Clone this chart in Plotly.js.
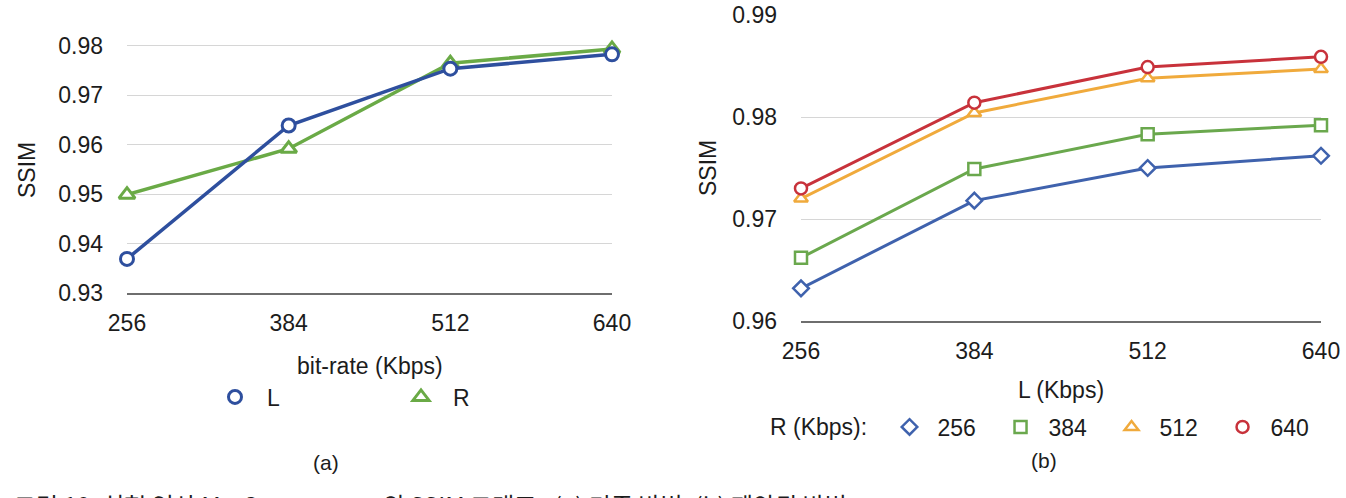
<!DOCTYPE html>
<html>
<head>
<meta charset="utf-8">
<script src="https://cdn.plot.ly/plotly-3.0.1.min.js"></script>
<style>html,body{margin:0;padding:0;background:#fff;}#chart{width:1346px;height:498px;}</style>
</head>
<body>
<div id="chart"></div>
<script>
// ---- data ----
const bitrates = [256, 384, 512, 640];
const tickLabels = ['256', '384', '512', '640'];

// (a) existing method
const ssimL = [0.9369, 0.9639, 0.9754, 0.9783];
const ssimR = [0.9499, 0.9592, 0.9765, 0.9794];

// (b) proposed method: series by R bitrate, x = L bitrate
const seriesNames = ['256', '384', '512', '640'];
const ssimR256 = [0.9632, 0.9718, 0.9750, 0.9762];
const ssimR384 = [0.9662, 0.9749, 0.9783, 0.9792];
const ssimR512 = [0.9720, 0.9804, 0.9838, 0.9847];
const ssimR640 = [0.9730, 0.9814, 0.9849, 0.9859];

const yTicksA = [0.93, 0.94, 0.95, 0.96, 0.97, 0.98];
const yTicksB = [0.96, 0.97, 0.98, 0.99];

const W = 1346, H = 498;
const px = v => v / W;
const py = v => 1 - v / H;
const FONT = 'Liberation Sans, Arial, Helvetica, sans-serif';
const TXT = '#1c1c1c';
const FS = 23;

const blueA = '#2e4f9e', greenA = '#6aaa46';
const cB = ['#3f62ad', '#6aa84d', '#f0aa3c', '#c8323b'];
const symB = ['diamond', 'square', 'triangle-up', 'circle'];
const seriesB = [ssimR256, ssimR384, ssimR512, ssimR640];

const traces = [];
// panel (a): green drawn first, blue on top
traces.push({x: bitrates, y: ssimR, xaxis: 'x', yaxis: 'y', mode: 'lines+markers', name: 'R', showlegend: false,
  line: {color: greenA, width: 3.5}, marker: {symbol: 'triangle-up', size: 14, color: '#fff', line: {color: greenA, width: 3}}, cliponaxis: false});
traces.push({x: bitrates, y: ssimL, xaxis: 'x', yaxis: 'y', mode: 'lines+markers', name: 'L', showlegend: false,
  line: {color: blueA, width: 3.5}, marker: {symbol: 'circle', size: 13, color: '#fff', line: {color: blueA, width: 3}}, cliponaxis: false});
// legend entries for (a)
traces.push({x: [null], y: [null], xaxis: 'x', yaxis: 'y', mode: 'markers', name: 'L', legend: 'legend',
  marker: {symbol: 'circle', size: 13, color: '#fff', line: {color: blueA, width: 3}}});
traces.push({x: [null], y: [null], xaxis: 'x', yaxis: 'y', mode: 'markers', name: 'R', legend: 'legend',
  marker: {symbol: 'triangle-up', size: 14, color: '#fff', line: {color: greenA, width: 3}}});

// panel (b)
seriesB.forEach((ys, i) => {
  traces.push({x: bitrates, y: ys, xaxis: 'x2', yaxis: 'y2', mode: 'lines+markers', name: seriesNames[i], showlegend: false,
    line: {color: cB[i], width: 3}, marker: {symbol: symB[i], size: 12, color: '#fff', line: {color: cB[i], width: 2.5}}, cliponaxis: false});
});
seriesB.forEach((ys, i) => {
  traces.push({x: [null], y: [null], xaxis: 'x2', yaxis: 'y2', mode: 'markers', name: seriesNames[i], legend: 'legend2',
    marker: {symbol: symB[i], size: 12, color: '#fff', line: {color: cB[i], width: 2.5}}});
});

const xCommon = {range: [256, 640], tickmode: 'array', tickvals: bitrates, ticktext: tickLabels,
  showgrid: false, zeroline: false, showline: true, linecolor: '#6e6e6e', linewidth: 2,
  ticks: '', tickfont: {family: FONT, size: FS, color: TXT}, ticklabelstandoff: 8, fixedrange: true};
const yCommon = {showgrid: true, gridcolor: '#d6d6d6', gridwidth: 1, zeroline: false, showline: false,
  ticks: '', tickfont: {family: FONT, size: FS, color: TXT}, ticklabelstandoff: 23, tickformat: '.2f', fixedrange: true};

const ann = (text, x, y, size, extra) => Object.assign({text: text, x: px(x), y: py(y), xref: 'paper', yref: 'paper',
  xanchor: 'center', yanchor: 'middle', showarrow: false, font: {family: FONT, size: size, color: TXT}}, extra || {});

const layout = {
  width: W, height: H,
  margin: {l: 0, r: 0, t: 0, b: 0},
  paper_bgcolor: '#fff', plot_bgcolor: '#fff',
  font: {family: FONT, color: TXT},
  xaxis: Object.assign({}, xCommon, {domain: [px(127), px(612)], anchor: 'y'}),
  yaxis: Object.assign({}, yCommon, {domain: [py(293), py(41)], range: [0.93, 0.981], tickvals: yTicksA, anchor: 'x'}),
  xaxis2: Object.assign({}, xCommon, {domain: [px(801), px(1321)], anchor: 'y2'}),
  yaxis2: Object.assign({}, yCommon, {domain: [py(321), py(15)], range: [0.96, 0.99], tickvals: yTicksB, anchor: 'x2'}),
  legend: {orientation: 'h', x: px(203), xanchor: 'left', y: py(397), yanchor: 'middle',
    itemwidth: 54, entrywidth: 117, entrywidthmode: 'pixels',
    font: {family: FONT, size: FS, color: TXT}, bgcolor: 'rgba(0,0,0,0)'},
  legend2: {orientation: 'h', x: px(768), xanchor: 'left', y: py(427), yanchor: 'middle',
    title: {text: 'R (Kbps):\u00a0', side: 'left', font: {family: FONT, size: FS, color: TXT}},
    itemwidth: 46, entrywidth: 50, entrywidthmode: 'pixels',
    font: {family: FONT, size: FS, color: TXT}, bgcolor: 'rgba(0,0,0,0)'},
  annotations: [
    ann('SSIM', 27, 170, 23, {textangle: -90}),
    ann('bit-rate (Kbps)', 370, 366, FS),
    ann('(a)', 326, 462, 21),
    ann('SSIM', 708, 168, 23, {textangle: -90}),
    ann('L (Kbps)', 1061, 390, FS),
    ann('(b)', 1044, 460, 21),
    {text: '그림 10. 실험 영상 Mt. Cowmagone의 SSIM 그래프 : (a) 기존 방법; (b) 제안된 방법', x: px(12), y: py(485),
      xref: 'paper', yref: 'paper', xanchor: 'left', yanchor: 'top', showarrow: false,
      font: {family: 'Noto Sans CJK KR, Noto Sans, sans-serif', size: 24, color: TXT}}
  ]
};

Plotly.newPlot('chart', traces, layout, {staticPlot: true, displayModeBar: false});
</script>
</body>
</html>
